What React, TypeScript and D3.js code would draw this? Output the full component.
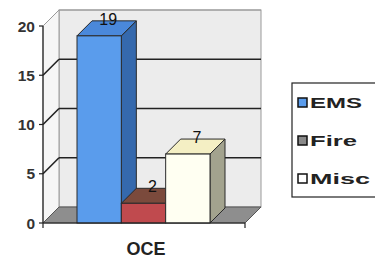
import * as d3 from 'd3';

// chart data
const categories = ['OCE'];
const series = ['EMS', 'Fire', 'Misc'];
const values = [19, 2, 7];
const yTicks = [0, 5, 10, 15, 20];

const palette = {
  EMS: { front: '#5a9cec', top: '#4a88da', side: '#3569ad', legend: '#5a9cec' },
  Fire: { front: '#c04a4e', top: '#7b4a3c', side: '#7a3a36', legend: '#8a8a8a' },
  Misc: { front: '#fffff2', top: '#f4efc4', side: '#a3a38e', legend: '#ffffff' },
} as Record<string, { front: string; top: string; side: string; legend: string }>;

// legend text widths as drawn in the original (stretched glyphs)
const legendWidths = [52, 47, 60];

export default function App() {
  const width = 375;
  const height = 261;
  const left = 43;
  const right = 245;
  const depth = 16;

  const y = d3.scaleLinear().domain([0, 20]).range([223, 26]);
  const xCat = d3.scaleBand().domain(categories).range([left, right]);
  const xSer = d3.scaleBand().domain(series).range([77, 210]);
  const yLegend = d3.scalePoint().domain(series).range([98, 174]);

  const y0 = y(0);
  const top = y(20);
  const font = 'Arial, "Liberation Sans", sans-serif';

  return (
    <svg width={width} height={height} style={{ position: 'absolute', left: 0, top: 0, background: '#fff' }}>
      {/* back wall */}
      <rect x={left + depth} y={top - depth} width={right - left} height={y0 - top} fill="#ececec" stroke="#9a9a9a" strokeWidth={1} />
      {/* side wall */}
      <polygon
        points={`${left},${top} ${left + depth},${top - depth} ${left + depth},${y0 - depth} ${left},${y0}`}
        fill="#f6f6f6"
        stroke="#9a9a9a"
        strokeWidth={1}
      />
      {/* floor */}
      <polygon
        points={`${left},${y0} ${right},${y0} ${right + depth},${y0 - depth} ${left + depth},${y0 - depth}`}
        fill="#8e8e8e"
        stroke="#555"
        strokeWidth={1}
      />
      {/* gridlines */}
      {yTicks.filter(t => t > 0).map(t => (
        <g key={t}>
          <line x1={left} y1={y(t)} x2={left + depth} y2={y(t) - depth} stroke={t === 20 ? '#999' : '#222'} strokeWidth={t === 20 ? 1 : 1.6} />
          <line x1={left + depth} y1={y(t) - depth} x2={right + depth} y2={y(t) - depth} stroke={t === 20 ? '#999' : '#222'} strokeWidth={t === 20 ? 1 : 1.6} />
        </g>
      ))}
      {/* bars */}
      {series.map((s, i) => {
        const x0 = xSer(s)!;
        const w = xSer.bandwidth();
        const yt = y(values[i]);
        const c = palette[s];
        const d = depth - 1;
        return (
          <g key={s} stroke="#2a2a2a" strokeWidth={1}>
            <polygon points={`${x0 + w},${yt} ${x0 + w + d},${yt - d} ${x0 + w + d},${y0 - d} ${x0 + w},${y0}`} fill={c.side} />
            <polygon points={`${x0},${yt} ${x0 + d},${yt - d} ${x0 + w + d},${yt - d} ${x0 + w},${yt}`} fill={c.top} />
            <rect x={x0} y={yt} width={w} height={y0 - yt} fill={c.front} />
          </g>
        );
      })}
      {/* value labels */}
      {series.map((s, i) => (
        <text
          key={s}
          x={xSer(s)! + xSer.bandwidth() / 2 + depth / 2 + 1}
          y={y(values[i]) - depth + 5}
          textAnchor="middle"
          fontFamily={font}
          fontSize={16}
          fill="#111"
        >
          {values[i]}
        </text>
      ))}
      {/* axes */}
      <line x1={left} y1={top} x2={left} y2={y0} stroke="#222" strokeWidth={1.2} />
      <line x1={left} y1={y0} x2={right} y2={y0} stroke="#222" strokeWidth={1.2} />
      <line x1={left} y1={y0} x2={left} y2={y0 + 5} stroke="#222" strokeWidth={1.2} />
      <line x1={right} y1={y0} x2={right} y2={y0 + 5} stroke="#222" strokeWidth={1.2} />
      {yTicks.map(t => (
        <g key={t}>
          <line x1={left - 4} y1={y(t)} x2={left} y2={y(t)} stroke="#222" strokeWidth={1.2} />
          <text x={left - 8} y={y(t) + 5.5} textAnchor="end" fontFamily={font} fontSize={15.5} fontWeight="bold" fill="#333">
            {t}
          </text>
        </g>
      ))}
      {categories.map(c => (
        <text key={c} x={xCat(c)! + xCat.bandwidth() / 2 + 2} y={255} textAnchor="middle" fontFamily={font} fontSize={18} fontWeight="bold" fill="#222">
          {c}
        </text>
      ))}
      {/* legend */}
      <rect x={292} y={83} width={100} height={114} fill="#fff" stroke="#222" strokeWidth={1.2} />
      {series.map((s, i) => {
        const ly = yLegend(s)!;
        return (
          <g key={s}>
            <rect x={298} y={ly} width={9} height={9} fill={palette[s].legend} stroke="#111" strokeWidth={1.5} />
            <text
              x={310}
              y={ly + 10}
              fontFamily={font}
              fontSize={15}
              fontWeight="bold"
              fill="#222"
              textLength={legendWidths[i]}
              lengthAdjust="spacingAndGlyphs"
            >
              {s}
            </text>
          </g>
        );
      })}
    </svg>
  );
}
